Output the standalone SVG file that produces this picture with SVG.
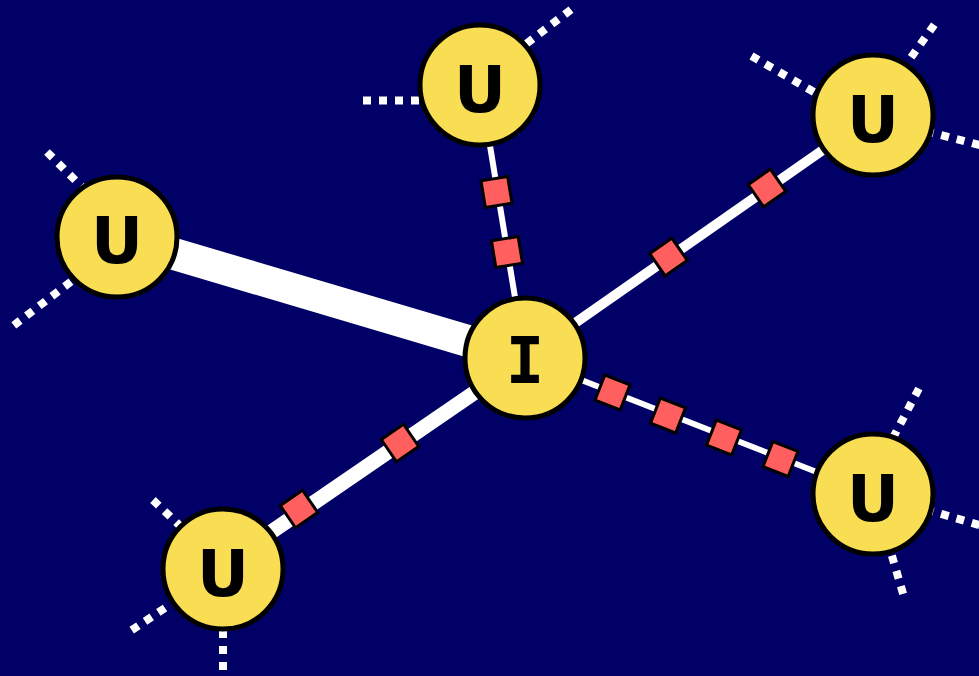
<svg xmlns="http://www.w3.org/2000/svg" width="979" height="676" viewBox="0 0 979 676">
<defs>
<style>
.stub{stroke:#fff;stroke-width:8;stroke-dasharray:8 8;fill:none}
.edge{stroke:#fff;fill:none}
.sq{fill:#ff5f5f;stroke:#000;stroke-width:3}
.node circle{fill:#f9dd52;stroke:#000;stroke-width:5}
.node text{font-family:"DejaVu Sans",Verdana,sans-serif;font-weight:bold;font-size:64px;text-anchor:middle;fill:#000}
.node text.mono{font-family:"DejaVu Sans Mono",monospace}
</style>
</defs>
<rect width="979" height="676" fill="#000066"/>
<g id="stubs">
<path class="stub" d="M363,100.5 L440,100.5"/>
<path class="stub" d="M571,9.6 L520,48.5"/>
<path class="stub" d="M47,152 L95,200"/>
<path class="stub" d="M13.8,325.4 L90,267"/>
<path class="stub" d="M751.5,56 L840,107"/>
<path class="stub" d="M934.3,24.7 L895,80"/>
<path class="stub" d="M995.4,149.2 L900,124.5"/>
<path class="stub" d="M918.9,388.5 L885,453"/>
<path class="stub" d="M994.8,529.6 L900,502"/>
<path class="stub" d="M903.1,593.9 L880,515"/>
<path class="stub" d="M153,500 L200,545"/>
<path class="stub" d="M131.7,630.2 L195,588"/>
<path class="stub" d="M223,686 L223,600"/>
</g>
<g id="connectors">
<path class="edge" stroke-width="32" d="M117,237 L525,358"/>
<path class="edge" stroke-width="6" d="M480,85 L525,358"/>
<path class="edge" stroke-width="10" d="M525,358 L873,115"/>
<path class="edge" stroke-width="15" d="M525,358 L223,565"/>
<path class="edge" stroke-width="6" d="M525,358 L873,494"/>
<rect class="sq" x="-13.5" y="-13.5" width="27" height="27" transform="translate(496.5,192) rotate(-9.4)"/>
<rect class="sq" x="-13.5" y="-13.5" width="27" height="27" transform="translate(507,252) rotate(-9.4)"/>
<rect class="sq" x="-13.5" y="-13.5" width="27" height="27" transform="translate(767,188) rotate(-34.9)"/>
<rect class="sq" x="-13.5" y="-13.5" width="27" height="27" transform="translate(668.5,257) rotate(-34.9)"/>
<rect class="sq" x="-13.5" y="-13.5" width="27" height="27" transform="translate(400,443) rotate(-34.4)"/>
<rect class="sq" x="-13.5" y="-13.5" width="27" height="27" transform="translate(299,509) rotate(-34.4)"/>
<rect class="sq" x="-13.5" y="-13.5" width="27" height="27" transform="translate(612.5,392.5) rotate(21.3)"/>
<rect class="sq" x="-13.5" y="-13.5" width="27" height="27" transform="translate(668,415.5) rotate(21.3)"/>
<rect class="sq" x="-13.5" y="-13.5" width="27" height="27" transform="translate(724,437.5) rotate(21.3)"/>
<rect class="sq" x="-13.5" y="-13.5" width="27" height="27" transform="translate(780.5,459) rotate(21.3)"/>
</g>
<g id="node-top" class="node"><circle cx="480" cy="85" r="60"/><text x="480" y="112">U</text></g>
<g id="node-left" class="node"><circle cx="117" cy="237" r="60"/><text x="117" y="263">U</text></g>
<g id="node-topright" class="node"><circle cx="873" cy="115" r="60"/><text x="873" y="142">U</text></g>
<g id="node-center" class="node"><circle cx="525" cy="358" r="60"/><text class="mono" x="525" y="383">I</text></g>
<g id="node-bottomright" class="node"><circle cx="873" cy="494" r="60"/><text x="873" y="521">U</text></g>
<g id="node-bottomleft" class="node"><circle cx="223" cy="569" r="60"/><text x="223" y="596">U</text></g>
</svg>
